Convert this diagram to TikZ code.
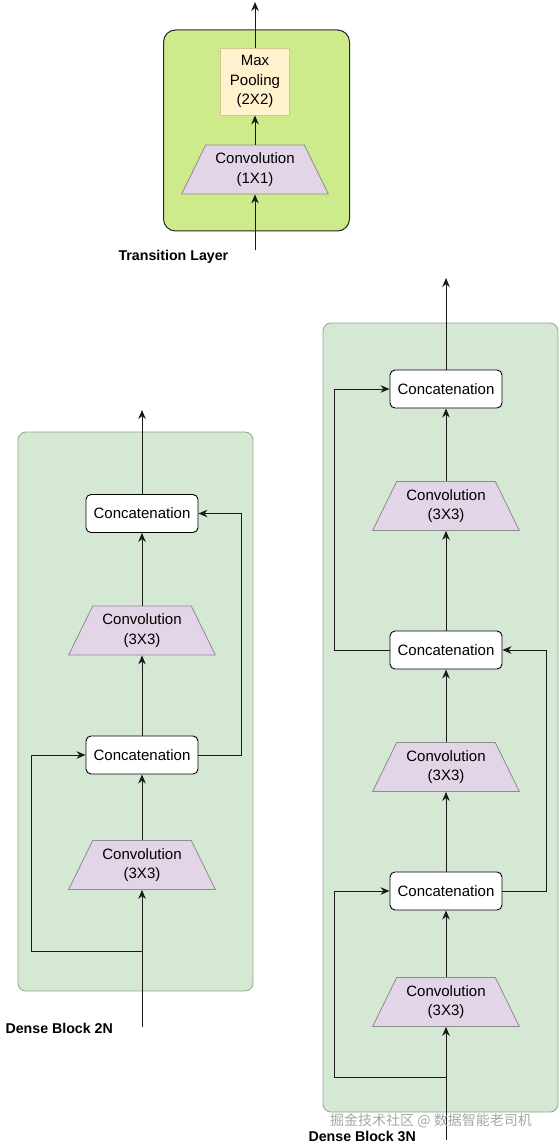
\documentclass[tikz,border=0pt]{standalone}
\usepackage{fontspec}
\setmainfont{Liberation Sans}
\newfontfamily\cjk{Noto Sans CJK SC}
\usetikzlibrary{shapes.geometric,arrows.meta}
\definecolor{blockgreen}{HTML}{D5E8D4}
\definecolor{blockline}{HTML}{8FA88C}
\definecolor{translime}{HTML}{CDEB8B}
\definecolor{convfill}{HTML}{E1D5E7}
\definecolor{convline}{HTML}{8C8C8C}
\definecolor{poolfill}{HTML}{FFF2CC}
\definecolor{poolline}{HTML}{D6C68E}
\tikzset{
  every node/.style={font=\fontsize{15}{19.5}\selectfont},
  blockbox/.style={draw=blockline, fill=blockgreen, rounded corners=8pt, line width=0.8pt},
  transbox/.style={draw=black!85, fill=translime, rounded corners=12pt, line width=1pt},
  concatbox/.style={draw=black, fill=white, rounded corners=5pt, minimum width=112pt, minimum height=38pt, inner sep=0pt, line width=0.9pt},
  convbox/.style={trapezium, trapezium angle=60, trapezium stretches=true, draw=convline, fill=convfill, minimum width=147pt, minimum height=49pt, inner sep=0pt, align=center, line width=0.8pt},
  poolbox/.style={draw=poolline, fill=poolfill, minimum width=69pt, minimum height=67pt, inner sep=0pt, align=center, line width=0.8pt},
  flow/.style={draw=black!90, line width=1pt, -{Stealth[length=9pt,width=7.5pt]}},
  caption/.style={font=\bfseries\fontsize{14.2}{16}\selectfont},
  wm/.style={font=\cjk\fontsize{14}{16}\selectfont, text=black!35}
}
\begin{document}
\begin{tikzpicture}[x=1pt,y=-1pt]
\useasboundingbox (0,0) rectangle (559,1147);

% ---------- Transition Layer ----------
\node[transbox, minimum width=186pt, minimum height=201pt] (tbox) at (256.5,130.5) {};
\node[poolbox] (pool) at (255,81.5) {Max\\Pooling\\(2X2)};
\node[convbox] (conv1) at (255,169.5) {Convolution\\(1X1)};
\coordinate (tin) at (255,250);
\coordinate (tout) at (255,2);
\draw[flow] (tin) -- (conv1.bottom side);
\draw[flow] (conv1.top side) -- (pool.south);
\draw[flow] (pool.north) -- (tout);
\node[caption, anchor=west] (tlabel) at (115,257) {Transition Layer};

% ---------- Dense Block 2N ----------
\node[blockbox, minimum width=235pt, minimum height=559pt] (box2) at (135.5,711.5) {};
\node[concatbox] (cA) at (142,513.5) {Concatenation};
\node[convbox] (vA) at (142,630.5) {Convolution\\(3X3)};
\node[concatbox] (cB) at (142,755) {Concatenation};
\node[convbox] (vB) at (142,865) {Convolution\\(3X3)};
\coordinate (in2) at (142,1027);
\coordinate (sp2) at (142,951);
\coordinate (out2) at (142,410);
\draw[flow] (in2) -- (vB.bottom side);
\draw[flow] (vB.top side) -- (cB.south);
\draw[flow] (cB.north) -- (vA.bottom side);
\draw[flow] (vA.top side) -- (cA.south);
\draw[flow] (cA.north) -- (out2);
\draw[flow] (sp2) -- (31,951) -- (31,755) -- (cB.west);
\draw[flow] (cB.east) -- (241,755) -- (241,513.5) -- (cA.east);
\node[caption, anchor=west] (lab2) at (2,1028) {Dense Block 2N};

% ---------- Dense Block 3N ----------
\node[blockbox, minimum width=235pt, minimum height=789pt] (box3) at (440.5,717.5) {};
\node[concatbox] (c1) at (446,389) {Concatenation};
\node[convbox] (v1) at (446,506) {Convolution\\(3X3)};
\node[concatbox] (c2) at (446,650) {Concatenation};
\node[convbox] (v2) at (446,767) {Convolution\\(3X3)};
\node[concatbox] (c3) at (446,891) {Concatenation};
\node[convbox] (v3) at (446,1002) {Convolution\\(3X3)};
\coordinate (in3) at (446,1140);
\coordinate (sp3) at (446,1077);
\coordinate (out3) at (446,278);
\draw[flow] (in3) -- (v3.bottom side);
\draw[flow] (v3.top side) -- (c3.south);
\draw[flow] (c3.north) -- (v2.bottom side);
\draw[flow] (v2.top side) -- (c2.south);
\draw[flow] (c2.north) -- (v1.bottom side);
\draw[flow] (v1.top side) -- (c1.south);
\draw[flow] (c1.north) -- (out3);
\draw[flow] (sp3) -- (334,1077) -- (334,891) -- (c3.west);
\draw[flow] (c3.east) -- (546,891) -- (546,650) -- (c2.east);
\draw[flow] (c2.west) -- (334,650) -- (334,389) -- (c1.west);
\node[wm] (wmark) at (431,1121) {掘金技术社区 @ 数据智能老司机};
\node[caption, anchor=west] (lab3) at (305,1136) {Dense Block 3N};
\end{tikzpicture}
\end{document}
